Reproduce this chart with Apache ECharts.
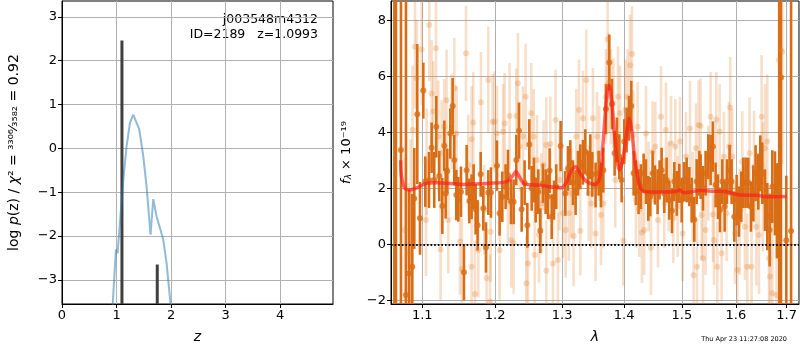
<!DOCTYPE html>
<html>
<head>
<meta charset="utf-8">
<script src="https://cdn.jsdelivr.net/npm/echarts@6/dist/echarts.min.js"></script>
<style>
html, body { margin: 0; padding: 0; background: #fff; }
#chart { width: 800px; height: 350px; }
</style>
</head>
<body>
<div id="chart"></div>
<script>
// ---- left panel: p(z) ----
const zTicks = [0, 1, 2, 3, 4];
const logpTicks = [-3, -2, -1, 0, 1, 2, 3];
const pzZ = [0.90, 0.989, 1.02, 1.075, 1.136, 1.185, 1.246, 1.307, 1.34, 1.417, 1.49, 1.551, 1.624, 1.673, 1.734, 1.857, 1.918, 1.99, 2.02];
const pzLogP = [-4.2, -2.31, -2.39, -1.48, -0.56, 0.05, 0.58, 0.77, 0.75, 0.43, -0.18, -0.87, -1.97, -1.16, -1.55, -2.08, -2.62, -3.54, -4.5];
const peakZ = [1.0993, 1.747];
const peakLogP = [2.46, -2.65];

// ---- right panel: spectrum ----
const lamTicks = [1.1, 1.2, 1.3, 1.4, 1.5, 1.6, 1.7];
const fluxTicks = [-2, 0, 2, 4, 6, 8];

const darkLam = [1.0640,1.0660,1.0724,1.0788,1.0831,1.0870,1.0896,1.0935,1.0970,1.1014,1.1040,1.1089,1.1124,1.1159,1.1186,1.1226,1.1267,1.1294,1.1312,1.1334,1.1375,1.1407,1.1429,1.1457,1.1484,1.1521,1.1562,1.1599,1.1636,1.1668,1.1696,1.1724,1.1752,1.1795,1.1832,1.1870,1.1903,1.1941,
  1.2027,1.2065,1.2104,1.2152,1.2186,1.2230,1.2269,1.2308,1.2347,1.2387,1.2431,1.2471,1.2501,1.2536,1.2571,1.2596,1.2636,1.2666,1.2706,1.2747,1.2783,1.2808,1.2839,1.2875,1.2910,1.2977,1.3050,1.3091,1.3128,1.3170,1.3212,1.3249,1.3286,1.3328,1.3366,1.3408,1.3446,1.3478,1.3531,
  1.3580,1.3618,1.3656,1.3699,1.3754,1.3798,1.3842,1.3880,1.3919,1.3958,1.4002,1.4042,1.4081,1.4120,1.4160,1.4199,1.4244,1.4284,1.4330,1.4370,1.4410,1.4444,1.4485,1.4525,1.4571,1.4606,1.4641,1.4688,1.4729,1.4776,1.4823,1.4865,1.4907,1.4954,1.4996,1.5044,1.5086,1.5134,1.5176,1.5224,1.5267,1.5316,
  1.5340,1.5383,1.5431,1.5481,1.5524,1.5567,1.5617,1.5660,1.5698,1.5742,1.5786,1.5830,1.5880,1.5918,1.5969,1.6014,1.6058,1.6103,1.6142,1.6187,1.6238,1.6290,1.6336,1.6381,1.6434,1.6473,1.6512,1.6565,1.6611,1.6658,1.6711,1.6764,1.6804,1.6851,1.6885,1.6993,1.7090];
const darkFlux = [-3.5,10,3.37,-1.81,-1.04,-0.80,1.64,4.65,0.93,5.49,2.24,2.30,3.45,2.30,4.20,2.44,1.37,3.52,1.82,2.62,3.96,4.94,3.01,1.76,1.61,1.88,-1.00,2.65,1.55,1.70,2.06,1.25,0.68,2.50,1.29,-0.11,1.85,1.85,
  2.81,1.11,1.70,2.06,2.48,1.52,1.52,3.01,4.06,1.25,2.20,0.68,3.57,2.00,2.30,1.58,1.88,0.49,2.18,1.88,1.70,2.63,0.99,1.58,2.06,3.51,1.82,2.71,2.92,2.20,1.85,2.54,2.77,2.93,3.31,2.54,3.13,2.50,2.12,
  2.54,2.12,2.65,4.83,6.49,5.01,3.25,3.73,3.13,2.30,3.67,4.08,4.50,4.94,2.54,2.20,1.88,2.06,2.54,2.24,1.64,1.70,2.54,2.12,1.88,2.30,2.65,1.82,2.30,1.58,1.20,2.24,1.82,2.18,1.58,2.24,2.30,2.06,1.58,0.89,2.24,2.54,
  2.42,2.00,2.54,3.13,3.01,3.49,2.12,1.70,1.23,2.24,1.35,2.24,2.65,2.24,0.99,1.58,1.17,1.70,2.20,2.20,2.20,1.35,1.82,2.54,2.24,2.89,2.54,1.58,0.99,0.51,2.06,1.82,1.20,0.15,5.96,0.15,0.48];
const darkErr = [13,13,12,11,3.0,2.6,1.8,2.5,1.3,1.0,0.9,1.0,0.9,1.0,1.1,0.9,1.0,0.9,0.9,0.8,0.9,1.0,0.9,0.9,0.8,0.9,1.0,0.9,0.8,0.8,0.8,0.9,0.9,0.8,0.8,0.9,0.8,0.9,
  0.9,0.8,0.9,0.8,0.9,0.8,0.8,0.9,1.0,0.8,0.8,0.8,0.9,0.8,0.8,0.8,0.8,0.8,0.7,0.8,0.8,0.8,0.8,0.7,0.8,0.9,0.8,0.8,0.8,0.8,0.8,0.8,0.8,0.8,0.8,0.8,0.8,0.8,0.8,
  0.8,0.8,0.8,0.9,1.0,0.9,0.8,0.8,0.8,0.8,0.8,0.8,0.8,0.9,0.8,0.8,0.8,0.8,0.7,0.8,0.8,0.7,0.8,0.7,0.8,0.7,0.8,0.7,0.8,0.7,0.8,0.7,0.8,0.7,0.8,0.7,0.8,0.7,0.8,0.8,0.8,0.8,
  0.8,0.8,0.8,0.8,0.9,0.9,0.8,0.8,0.8,0.8,0.9,0.8,0.9,0.8,0.9,0.9,0.9,0.9,0.9,0.9,0.9,0.9,1.0,1.0,1.0,1.0,1.1,1.1,1.2,1.3,1.3,1.5,1.7,12,12,2.3,12];

const lightLam = [1.0775,1.0818,1.0848,1.0874,1.0905,1.0926,1.0992,1.1049,1.1058,1.1093,
  1.1124,1.1146,1.1182,1.1213,1.1244,1.1258,1.1294,1.1325,1.1348,1.1393,
  1.1429,1.1461,1.1507,1.1534,1.1590,1.1622,1.1668,1.1668,1.1692,1.1715,
  1.1762,1.1799,1.1846,1.1879,1.1903,1.1927,1.1936,1.1965,1.1993,1.2027,
  1.2065,1.2114,1.2138,1.2186,1.2210,1.2234,1.2269,1.2308,1.2332,1.2357,
  1.2406,1.2446,1.2456,1.2481,1.2530,1.2566,1.2581,1.2616,1.2646,1.2681,
  1.2716,1.2757,1.2757,1.2818,1.2859,1.2900,1.2936,1.2962,1.3013,1.3055,
  1.3107,1.3144,1.3180,1.3222,1.3265,1.3286,1.3328,1.3381,1.3424,1.3462,
  1.3488,1.3531,1.3553,1.3591,1.3618,1.3656,1.3699,1.3727,1.3743,1.3781,
  1.3820,1.3853,1.3897,1.3930,1.3986,1.4019,1.4059,1.4098,1.4132,1.4154,
  1.4199,1.4227,1.4256,1.4301,1.4341,1.4370,1.4416,1.4456,1.4485,1.4531,
  1.4578,1.4630,1.4688,1.4717,1.4764,1.4806,1.4847,1.4883,1.4924,1.4966,
  1.5014,1.5074,1.5146,1.5194,1.5212,1.5255,1.5273,1.5303,1.5340,1.5358,
  1.5383,1.5431,1.5481,1.5524,1.5567,1.5586,1.5630,1.5648,1.5692,1.5729,
  1.5773,1.5823,1.5867,1.5893,1.5931,1.5982,1.6026,1.6071,1.6122,1.6174,
  1.6219,1.6264,1.6303,1.6349,1.6394,1.6447,1.6499,1.6525,1.6565,1.6611,
  1.6645,1.6665,1.6711,1.6797,1.6844,1.6878,1.6911];
const lightFlux = [0.51,-0.32,1.35,4.08,7.06,5.93,6.96,0.87,2.95,7.83,
  5.39,4.74,7.00,3.85,-0.18,3.25,4.20,5.15,0.87,4.38,
  5.57,3.96,0.10,-0.89,6.82,2.83,3.75,-0.80,4.35,-1.77,
  -0.20,5.07,1.23,-1.21,5.87,-2.05,0.45,4.38,4.38,3.96,
  -0.20,4.02,4.32,1.58,4.58,0.15,0.04,4.58,5.75,3.49,
  3.85,5.27,-1.39,-0.68,4.68,3.85,-0.38,3.01,0.33,1.46,
  2.83,3.55,-0.94,3.58,-0.68,4.44,-0.56,2.30,1.11,0.51,
  1.11,1.82,0.30,3.85,4.80,0.49,4.50,5.87,1.82,1.46,
  4.50,0.39,3.85,3.25,1.05,1.46,5.27,7.32,5.75,5.27,
  5.04,2.30,5.27,4.68,0.13,4.80,5.27,6.40,6.80,3.90,
  1.58,4.20,1.25,0.42,0.51,3.96,2.06,-0.12,3.31,3.49,
  0.87,4.56,1.46,4.08,2.06,3.60,0.93,3.49,1.35,3.67,
  0.39,3.13,4.14,1.70,-1.10,3.43,-0.80,4.26,4.23,1.05,
  -0.50,0.51,2.54,4.56,1.07,0.15,4.46,-0.80,4.02,-0.32,
  3.13,1.11,3.49,4.89,3.13,0.39,-0.92,0.81,2.95,0.63,
  -0.80,3.25,-0.80,2.77,0.63,0.33,4.56,2.06,3.43,3.67,
  -0.50,-1.15,-1.75,-1.81,6.58,6.94,6.88];
const lightErr = [2.6,2.5,2.4,2.3,2.2,2.1,2.0,2.0,1.9,2.0,
  1.9,1.8,1.9,2.0,1.8,1.9,1.7,1.8,1.9,1.7,
  1.8,1.7,1.9,1.8,1.7,1.8,1.9,1.7,1.8,1.9,
  1.7,1.8,1.6,1.8,1.9,1.7,1.8,1.7,1.8,1.7,
  1.8,1.7,1.8,1.6,1.9,1.7,1.8,1.7,1.8,1.6,
  1.8,1.9,1.7,1.6,1.8,1.7,1.8,1.6,1.7,1.8,
  1.6,1.7,1.8,1.7,1.6,1.8,1.7,1.8,1.6,1.7,
  1.7,1.6,1.8,1.7,1.8,1.6,1.7,1.8,1.7,1.6,
  1.8,1.7,1.6,1.7,1.8,1.6,1.7,1.9,1.8,1.7,
  1.6,1.7,1.8,1.7,1.6,1.8,1.7,1.8,1.7,1.6,
  1.7,1.6,1.7,1.8,1.6,1.7,1.6,1.7,1.8,1.6,
  1.7,1.8,1.6,1.7,1.6,1.7,1.6,1.7,1.8,1.6,
  1.7,1.6,1.7,1.6,1.7,1.6,1.7,1.6,1.7,1.6,
  1.7,1.6,1.7,1.6,1.7,1.6,1.7,1.6,1.7,1.7,
  1.6,1.7,1.6,1.8,1.7,1.8,1.8,1.9,1.8,1.9,
  1.9,2.0,1.9,2.0,2.1,2.1,2.2,2.3,2.3,2.4,
  2.5,2.6,2.8,3.0,3.5,4.0,4.0];

const modelLam = [1.0720,1.0732,1.0775,1.0840,1.0927,1.1058,1.1191,1.1553,1.1927,1.2167,1.2254,1.2303,1.2352,1.2436,1.2611,1.2813,1.2993,1.3071,1.3149,1.3212,1.3281,1.3387,1.3521,1.3602,1.3656,1.3711,1.3749,1.3793,1.3848,1.3920,1.3975,1.4042,1.4087,1.4126,1.4183,1.4268,1.4353,1.4671,1.4907,1.4966,1.5026,1.5146,1.5328,1.5574,1.5792,1.5887,1.6078,1.6401,1.6598,1.7000];
const modelFlux = [3.0,2.4,2.0,1.94,2.02,2.18,2.2,2.14,2.18,2.24,2.44,2.6,2.42,2.15,2.12,2.06,2.02,2.24,2.65,2.77,2.54,2.24,2.14,2.42,3.73,5.27,5.69,5.15,3.73,2.65,3.01,3.96,4.5,4.08,3.01,2.06,1.88,1.87,1.9,1.94,1.85,1.87,1.92,1.9,1.89,1.85,1.76,1.75,1.7,1.71];

const lamMin = 1.0597, lamMax = 1.7252;

const chart = echarts.init(document.getElementById('chart'));

const FONT = 'DejaVu Sans';
const GRID_COLOR = '#b0b0b0';
const DARK = '#d96d15';
const LIGHT_BAR = 'rgba(228,128,44,0.25)';
const LIGHT_DOT = 'rgba(228,128,44,0.35)';
const minus = v => String(v).replace('-', '\u2212');

function axisStyle(extra) {
    return Object.assign({
        type: 'value',
        axisLine: { show: true, onZero: false, lineStyle: { color: '#000', width: 1 } },
        splitLine: { show: true, lineStyle: { color: GRID_COLOR, width: 1 } }
    }, extra);
}

// vertical segments, clamped to the plotting area
function vbar(color, width) {
    return function (params, api) {
        const x = api.value(0), lo = api.value(1), hi = api.value(2);
        const cs = params.coordSys;
        const p0 = api.coord([x, lo]), p1 = api.coord([x, hi]);
        const top = cs.y, bot = cs.y + cs.height;
        const y1 = Math.min(bot, Math.max(top, p0[1]));
        const y2 = Math.min(bot, Math.max(top, p1[1]));
        if (p0[0] < cs.x || p0[0] > cs.x + cs.width) return null;
        return {
            type: 'line',
            shape: { x1: p0[0], y1: y1, x2: p0[0], y2: y2 },
            style: { stroke: color, lineWidth: width }
        };
    };
}

const lnTicks = lamTicks.map(v => Math.log(v));
const tick = vals => ({ show: true, length: 4, lineStyle: { color: '#000' }, customValues: vals });
const label = (vals, fmt) => ({ color: '#000', fontSize: 13, fontFamily: FONT, margin: 5, customValues: vals, formatter: fmt });

const option = {
    animation: false,
    backgroundColor: '#fff',
    grid: [
        { left: 62, top: 1, width: 271, height: 303, show: true, borderColor: '#000', borderWidth: 1, backgroundColor: 'transparent' },
        { left: 391, top: 1, width: 408, height: 303, show: true, borderColor: '#000', borderWidth: 1, backgroundColor: 'transparent' }
    ],
    xAxis: [
        axisStyle({
            gridIndex: 0, min: 0, max: 4.97,
            name: 'z', nameLocation: 'middle', nameGap: 26,
            nameTextStyle: { color: '#000', fontSize: 14, fontFamily: FONT, fontStyle: 'italic' },
            axisTick: tick(zTicks),
            axisLabel: label(zTicks, minus)
        }),
        axisStyle({
            gridIndex: 1, min: Math.log(lamMin), max: Math.log(lamMax),
            name: 'λ', nameLocation: 'middle', nameGap: 26,
            nameTextStyle: { color: '#000', fontSize: 14, fontFamily: FONT, fontStyle: 'italic' },
            axisTick: tick(lnTicks),
            axisLabel: label(lnTicks, v => Math.exp(v).toFixed(1))
        })
    ],
    yAxis: [
        axisStyle({
            gridIndex: 0, min: -3.55, max: 3.36,
            name: '{t|log }{i|p}{t|(z) / }{i|χ}{t|² = }{f|³³⁰⁶⁄₃₅₈₂}{t| = 0.92}',
            nameLocation: 'middle', nameGap: 41,
            nameTextStyle: {
                rich: {
                    t: { fontSize: 14, fontFamily: FONT, color: '#000' },
                    i: { fontSize: 14, fontFamily: FONT, color: '#000', fontStyle: 'italic' },
                    f: { fontSize: 13, fontFamily: FONT, color: '#000' }
                }
            },
            axisTick: tick(logpTicks),
            axisLabel: label(logpTicks, minus)
        }),
        axisStyle({
            gridIndex: 1, min: -2.13, max: 8.69,
            name: '{i|f}{s|λ}{t| × 10⁻¹⁹}',
            nameLocation: 'middle', nameGap: 38,
            nameTextStyle: {
                rich: {
                    t: { fontSize: 13, fontFamily: FONT, color: '#000' },
                    i: { fontSize: 13, fontFamily: FONT, color: '#000', fontStyle: 'italic' },
                    s: { fontSize: 9, fontFamily: FONT, color: '#000', fontStyle: 'italic', verticalAlign: 'bottom' }
                }
            },
            axisTick: tick(fluxTicks),
            axisLabel: label(fluxTicks, minus)
        })
    ],
    graphic: [
        { type: 'text', x: 318, y: 20, style: { text: 'j003548m4312', font: '12.5px "DejaVu Sans"', fill: '#000', align: 'right', verticalAlign: 'middle' } },
        { type: 'text', x: 318, y: 35, style: { text: 'ID=2189   z=1.0993', font: '12.5px "DejaVu Sans"', fill: '#000', align: 'right', verticalAlign: 'middle' } },
        { type: 'text', x: 787, y: 339, style: { text: 'Thu Apr 23 11:27:08 2020', font: '6.5px "DejaVu Sans"', fill: '#000', align: 'right', verticalAlign: 'middle' } }
    ],
    series: [
        {
            type: 'line', xAxisIndex: 0, yAxisIndex: 0, silent: true,
            data: pzZ.map((z, i) => [z, pzLogP[i]]),
            showSymbol: false, clip: true,
            lineStyle: { color: 'rgba(31,119,180,0.5)', width: 2 }
        },
        {
            type: 'custom', xAxisIndex: 0, yAxisIndex: 0, silent: true,
            data: peakZ.map((z, i) => [z, -10, peakLogP[i]]),
            renderItem: vbar('#404040', 3)
        },
        {
            type: 'custom', xAxisIndex: 1, yAxisIndex: 1, silent: true,
            data: lightLam.map((l, i) => [Math.log(l), lightFlux[i] - lightErr[i], lightFlux[i] + lightErr[i]]),
            renderItem: vbar(LIGHT_BAR, 2.6)
        },
        {
            type: 'scatter', xAxisIndex: 1, yAxisIndex: 1, silent: true, clip: true,
            data: lightLam.map((l, i) => [Math.log(l), lightFlux[i]]),
            symbolSize: 6, itemStyle: { color: LIGHT_DOT }
        },
        {
            type: 'custom', xAxisIndex: 1, yAxisIndex: 1, silent: true,
            data: darkLam.map((l, i) => [Math.log(l), darkFlux[i] - darkErr[i], darkFlux[i] + darkErr[i]]),
            renderItem: vbar(DARK, 2.6)
        },
        {
            type: 'scatter', xAxisIndex: 1, yAxisIndex: 1, silent: true, clip: true,
            data: darkLam.map((l, i) => [Math.log(l), darkFlux[i]]),
            symbolSize: 6, itemStyle: { color: DARK }
        },
        {
            type: 'line', xAxisIndex: 1, yAxisIndex: 1, silent: true,
            data: modelLam.map((l, i) => [Math.log(l), modelFlux[i]]),
            showSymbol: false, smooth: 0.3,
            lineStyle: { color: 'rgba(255,25,25,0.65)', width: 3.5 },
            markLine: {
                silent: true, symbol: 'none', label: { show: false },
                lineStyle: { color: '#000', type: [1.6, 2], width: 1.8 },
                data: [{ yAxis: 0 }]
            }
        }
    ]
};

chart.setOption(option);
</script>
</body>
</html>
